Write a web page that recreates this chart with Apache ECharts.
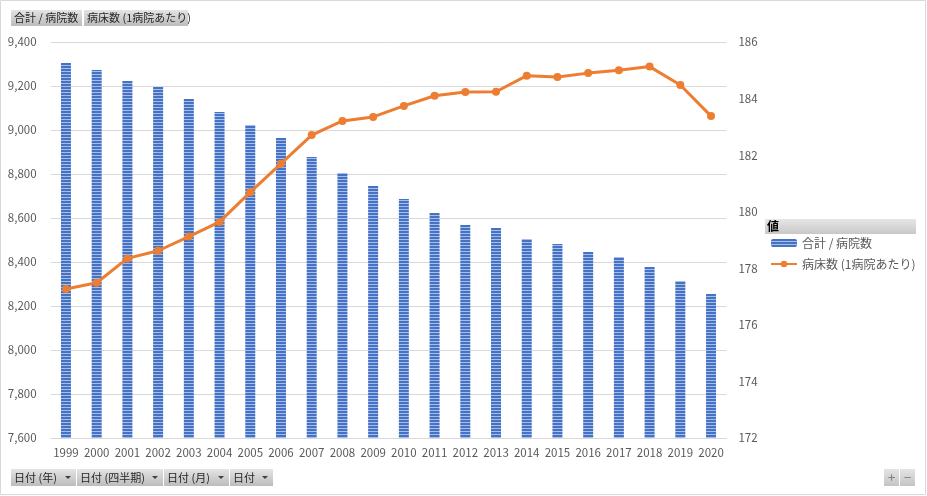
<!DOCTYPE html>
<html><head><meta charset="utf-8">
<script src="https://cdn.jsdelivr.net/npm/echarts@6/dist/echarts.min.js"></script>
<style>html,body{margin:0;padding:0;background:#fff}#c{width:927px;height:496px}</style>
</head><body><div id="c"></div><script>
const years = ['1999','2000','2001','2002','2003','2004','2005','2006','2007','2008','2009','2010','2011','2012','2013','2014','2015','2016','2017','2018','2019','2020'];
const hospitals = [9305,9273,9223,9195,9141,9082,9023,8964,8877,8805,8745,8686,8623,8568,8555,8505,8482,8445,8423,8377,8314,8255];
const bedsPerHospital = [177.27,177.49,178.35,178.62,179.12,179.64,180.69,181.70,182.71,183.21,183.35,183.74,184.10,184.23,184.24,184.81,184.76,184.90,185.00,185.13,184.48,183.38];
const seriesNames = ['合計 / 病院数','病床数 (1病院あたり)'];
const legendTitle = '値';
const bottomButtons = ['日付 (年)','日付 (四半期)','日付 (月)','日付'];

const FONT = '"Noto Sans CJK JP", "Noto Sans", sans-serif';
const pc = document.createElement('canvas'); pc.width = 4; pc.height = 3;
const g = pc.getContext('2d');
g.fillStyle = '#4472c4'; g.fillRect(0,0,4,2);
g.fillStyle = '#a9bde6'; g.fillRect(0,2,4,1);
const barPattern = {image: pc, repeat: 'repeat'};

const grad = (a,b) => ({type:'linear',x:0,y:0,x2:0,y2:1,colorStops:[{offset:0,color:a},{offset:1,color:b}]});
function button(x,y,w,h,label,arrow){
  const ch = [
    {type:'rect', shape:{x:x,y:y,width:w,height:h}, style:{fill:grad('#e4e4e4','#bcbcbc')}},
    {type:'text', style:{text:label, x:x+3, y:y+h/2, fill:'#262626', font:'11px '+FONT, verticalAlign:'middle'}}
  ];
  if (arrow) ch.push({type:'polygon', shape:{points:[[x+w-11,y+h/2-1.5],[x+w-5,y+h/2-1.5],[x+w-8,y+h/2+1.5]]}, style:{fill:'#404040'}});
  return {type:'group', children: ch};
}
const bx = [[11,65],[77,86],[164,65],[230,43]];
const graphics = [
  {type:'rect', shape:{x:0.5,y:0.5,width:925,height:494}, style:{fill:'none', stroke:'#d9d9d9', lineWidth:1}, z:-1},
  button(11,10,71,16,seriesNames[0],false),
  button(84,10,104,16,seriesNames[1],false),
  {type:'rect', shape:{x:765,y:219,width:151,height:15}, style:{fill:grad('#e6e6e6','#c8c8c8')}},
  {type:'text', style:{text:legendTitle, x:767, y:226.5, fill:'#000', font:'bold 12px '+FONT, verticalAlign:'middle'}},
  {type:'rect', shape:{x:884,y:469,width:15,height:17}, style:{fill:grad('#e4e4e4','#c4c4c4')}},
  {type:'rect', shape:{x:900,y:469,width:15,height:17}, style:{fill:grad('#e4e4e4','#c4c4c4')}},
  {type:'text', style:{text:'+', x:891.5, y:477.5, fill:'#7f7f7f', font:'13px '+FONT, align:'center', verticalAlign:'middle'}},
  {type:'text', style:{text:'−', x:907.5, y:477.5, fill:'#7f7f7f', font:'13px '+FONT, align:'center', verticalAlign:'middle'}}
];
bottomButtons.forEach((t,i)=>graphics.push(button(bx[i][0],469,bx[i][1],17,t,true)));

const chart = echarts.init(document.getElementById('c'), null, {renderer:'canvas'});
chart.setOption({
  animation:false,
  textStyle:{fontFamily:FONT},
  grid:{left:50.6, right:200.6, top:42, bottom:58, containLabel:false},
  legend:{orient:'vertical', left:770, top:237, padding:0, itemWidth:26, itemHeight:8, itemGap:9,
    textStyle:{color:'#595959', fontSize:12, fontFamily:FONT}, data:seriesNames},
  xAxis:{type:'category', data:years, axisTick:{show:false},
    axisLine:{show:true, lineStyle:{color:'#d9d9d9'}},
    axisLabel:{color:'#595959', fontSize:11.5, margin:9, interval:0}},
  yAxis:[
    {type:'value', min:7600, max:9400, interval:200,
     axisLabel:{color:'#595959', fontSize:11.5, margin:14, formatter:v=>v.toLocaleString('en-US')},
     splitLine:{lineStyle:{color:'#d9d9d9'}}, axisLine:{show:false}, axisTick:{show:false}},
    {type:'value', min:172, max:186, interval:2, position:'right',
     axisLabel:{color:'#595959', fontSize:11.5, margin:12},
     splitLine:{show:false}, axisLine:{show:false}, axisTick:{show:false}}
  ],
  series:[
    {name:seriesNames[0], type:'bar', data:hospitals, barWidth:10, yAxisIndex:0,
     itemStyle:{color:barPattern}},
    {name:seriesNames[1], type:'line', data:bedsPerHospital, yAxisIndex:1,
     symbol:'circle', symbolSize:8, lineStyle:{color:'#ed7d31', width:3},
     itemStyle:{color:'#ed7d31'}}
  ],
  graphic:graphics
});
</script></body></html>
